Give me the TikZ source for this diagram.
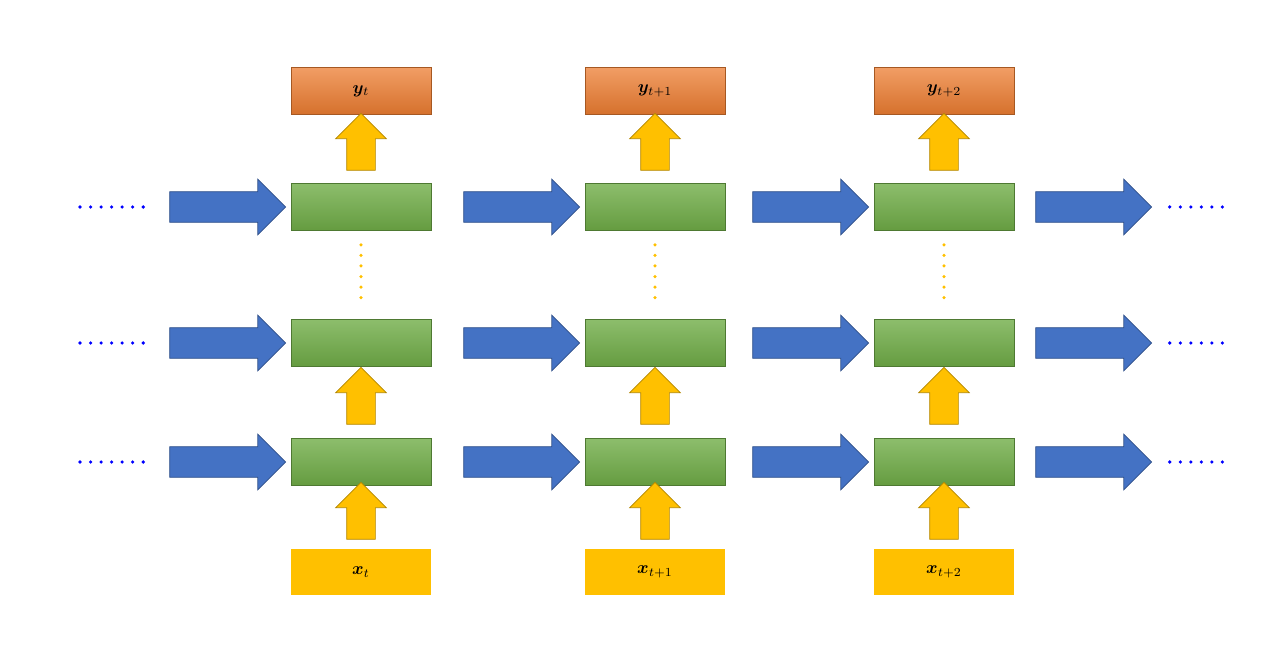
\documentclass[tikz,border=0pt]{standalone}
\usepackage{amsmath,bm}
\usetikzlibrary{shapes.arrows}
\definecolor{cellgreen}{RGB}{112,173,71}
\definecolor{flowblue}{RGB}{68,114,196}
\definecolor{inyellow}{RGB}{255,192,0}
\definecolor{outorange}{RGB}{237,125,49}
\tikzset{
  cell/.style={draw=cellgreen!70!black,top color=cellgreen!80!white,bottom color=cellgreen!90!black,minimum width=2.8cm,minimum height=0.94cm,inner sep=0pt},
  inbox/.style={fill=inyellow,minimum width=2.8cm,minimum height=0.92cm,inner sep=0pt},
  outbox/.style={draw=outorange!70!black,top color=outorange!75!white,bottom color=outorange!90!black,minimum width=2.8cm,minimum height=0.94cm,inner sep=0pt},
  flow/.style={single arrow,draw=flowblue!70!black,fill=flowblue,inner sep=0.3cm,single arrow head extend=0.25cm,minimum height=2.32cm},
  lift/.style={single arrow,draw=inyellow!70!black,fill=inyellow,shape border rotate=90,inner sep=0.28cm,single arrow head extend=0.22cm,minimum height=1.14cm},
  dots/.style={blue,line width=2pt,dash pattern=on 0pt off 6pt,line cap=round}
}
\begin{document}
\begin{tikzpicture}[x=0.02cm,y=-0.02cm]
    \useasboundingbox (0,0) rectangle (1262,645);

    % columns of cells
    \foreach \c/\x/\s in {1/361/t,2/655/{t+1},3/944/{t+2}}{
        \node[cell] (T_\c) at (\x,207) {};
        \node[cell] (M_\c) at (\x,343) {};
        \node[cell] (B_\c) at (\x,462) {};
        \node[outbox] (Y_\c) at (\x,91) {$\bm{y}_{\s}$};
        \node[inbox] (X_\c) at (\x,572) {$\bm{x}_{\s}$};

        \node[lift] (UY_\c) at (\x,149) {};
        \node[lift] (UM_\c) at (\x,403) {};
        \node[lift] (UX_\c) at (\x,518) {};

        \draw[inyellow,line width=2pt,dash pattern=on 0pt off 6pt,line cap=round]
            ([yshift=-8pt]T_\c.south) -- ([yshift=8pt]M_\c.north);
    }

    % horizontal flow
    \foreach \r/\y in {T/207,M/343,B/462}{
        \node[flow] (F0_\r) at (220,\y) {};
        \node[flow] (F1_\r) at (514,\y) {};
        \node[flow] (F2_\r) at (803,\y) {};
        \node[flow] (F3_\r) at (1086,\y) {};
        \coordinate (L_\r) at (80,\y);
        \coordinate (R_\r) at (1226,\y);
        \draw[dots] (L_\r) -- ([xshift=-10pt]F0_\r.west);
        \draw[dots] ([xshift=10pt]F3_\r.east) -- (R_\r);
    }
\end{tikzpicture}
\end{document}
